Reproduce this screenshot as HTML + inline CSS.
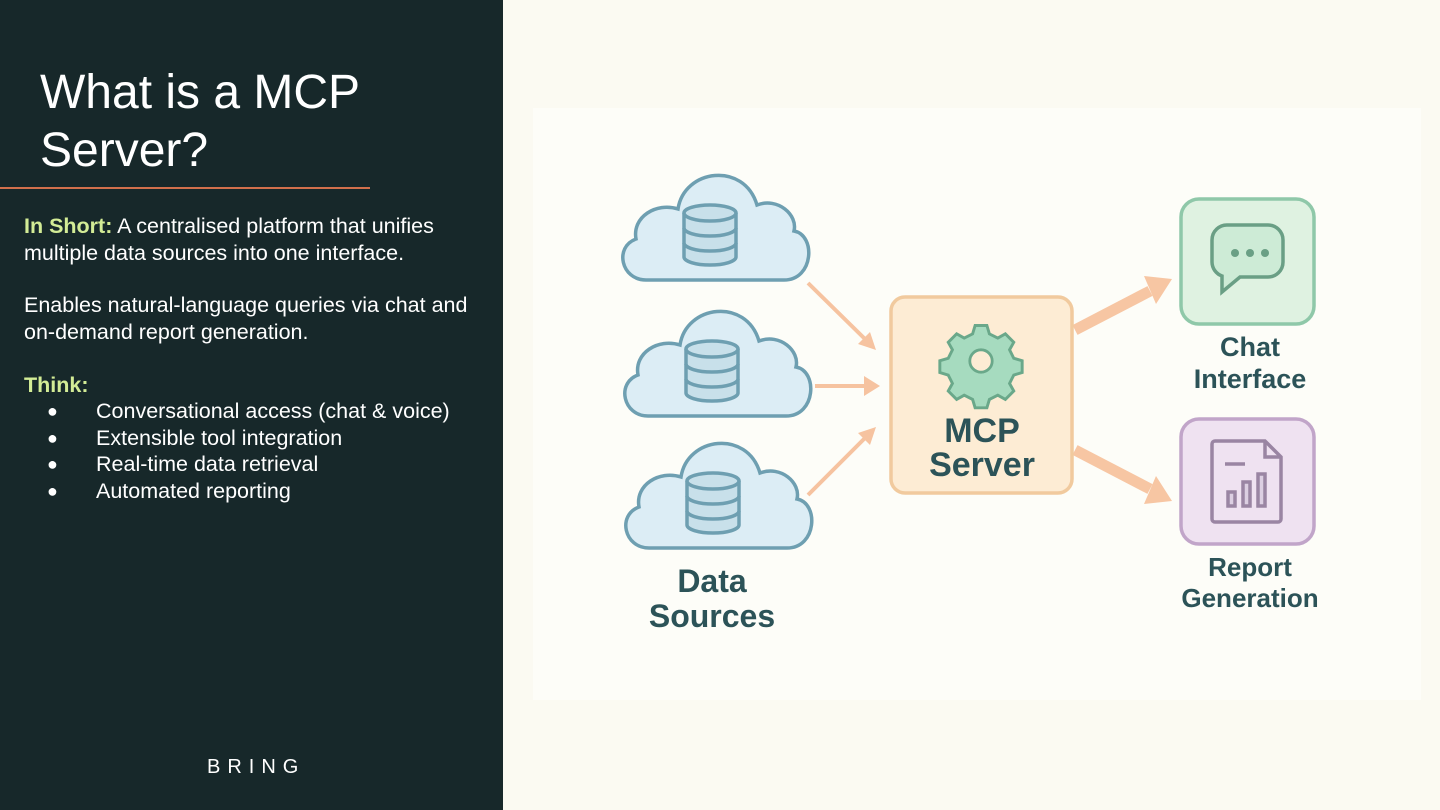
<!DOCTYPE html>
<html><head><meta charset="utf-8"><style>
*{margin:0;padding:0;box-sizing:border-box}
body{width:1440px;height:810px;overflow:hidden;background:#fbfaf2;font-family:"Liberation Sans",sans-serif;position:relative}
#left{position:absolute;left:0;top:0;width:503px;height:810px;background:#17282a;color:#fff}
.t{position:absolute;white-space:nowrap}
h1{position:absolute;left:40px;top:64px;font-weight:normal;font-size:48px;line-height:58px;color:#fff}
.b{font-size:21.5px;line-height:26.5px}
.g{color:#d3ec96;font-weight:bold}
</style></head><body>
<div id="left">
<h1>What is a MCP<br>Server?</h1>
<div style="position:absolute;left:0;top:187px;width:370px;height:2px;background:#d2704c"></div>
<div class="t b" style="left:24px;top:213px"><span class="g">In Short:</span> A centralised platform that unifies<br>multiple data sources into one interface.</div>
<div class="t b" style="left:24px;top:292px">Enables natural-language queries via chat and<br>on-demand report generation.</div>
<div class="t b g" style="left:24px;top:372px">Think:</div>
<div class="t b" style="left:47px;top:398px;font-size:18px">●<br>●<br>●<br>●</div>
<div class="t b" style="left:96px;top:398px">Conversational access (chat &amp; voice)<br>Extensible tool integration<br>Real-time data retrieval<br>Automated reporting</div>
<div class="t" style="left:207px;top:756px;font-size:20px;letter-spacing:7px;color:#fff">BRING</div>
</div>
<div style="position:absolute;left:533px;top:108px;width:888px;height:592px;background:#fdfdf8"></div>
<svg width="1440" height="810" style="position:absolute;left:0;top:0">
<defs>
<g id="cloud">
<path d="M30,113 C5,113 -2,80 20,72 C16,50 40,35 62,42 C68,2 128,-6 141,38 C162,30 182,48 178,64 C200,68 198,113 168,113 Z" fill="#dcedf5" stroke="#6e9fb1" stroke-width="3.5"/>
<g fill="#c8e0ea" stroke="#6e9fb1" stroke-width="3.5">
<path d="M68,46 v44 a26,8 0 0 0 52,0 v-44"/>
<ellipse cx="94" cy="46" rx="26" ry="8"/>
<path d="M68,61 a26,8 0 0 0 52,0 M68,76 a26,8 0 0 0 52,0" fill="none"/>
</g>
</g>
</defs>
<use href="#cloud" x="616" y="167"/>
<use href="#cloud" x="618" y="303"/>
<use href="#cloud" x="619" y="435"/>
<g stroke="#f6c3a0" stroke-width="4" fill="#f6c3a0">
<line x1="808" y1="283" x2="866" y2="340"/><polygon points="876,350 858,344 870,332" stroke="none"/>
<line x1="815" y1="386" x2="866" y2="386"/><polygon points="880,386 864,376 864,396" stroke="none"/>
<line x1="808" y1="495" x2="866" y2="437"/><polygon points="876,427 870,445 858,433" stroke="none"/>
</g>
<g stroke="#f7c6a3" stroke-width="11" fill="#f7c6a3">
<line x1="1075" y1="330" x2="1150" y2="291"/><polygon points="1172,279 1144,276 1156,304" stroke="none"/>
<line x1="1075" y1="450" x2="1150" y2="489"/><polygon points="1172,501 1156,476 1144,504" stroke="none"/>
</g>
<rect x="891" y="297" width="181" height="196" rx="14" fill="#fdecd4" stroke="#f1ca9e" stroke-width="3.5"/>
<g transform="translate(981,361) scale(0.8)" fill="#a6dbbf" stroke="#6aa88a" stroke-width="3.5">
<path d="M-7,-48 h14 l3,10 l10,5 l9,-5 l10,10 l-5,9 l5,10 l10,3 v14 l-10,3 l-5,10 l5,9 l-10,10 l-9,-5 l-10,5 l-3,10 h-14 l-3,-10 l-10,-5 l-9,5 l-10,-10 l5,-9 l-5,-10 l-10,-3 v-14 l10,-3 l5,-10 l-5,-9 l10,-10 l9,5 l10,-5 z" transform="translate(0,6) scale(1.05)"/>
<circle r="14" fill="#fdecd4"/>
</g>
<g font-weight="bold" fill="#2c5358" text-anchor="middle" font-family="Liberation Sans,sans-serif">
<text x="982" y="442" font-size="34">MCP</text>
<text x="982" y="476" font-size="34">Server</text>
<text x="712" y="592" font-size="32">Data</text>
<text x="712" y="627" font-size="32">Sources</text>
<text x="1250" y="356" font-size="27">Chat</text>
<text x="1250" y="388" font-size="27">Interface</text>
<text x="1250" y="576" font-size="26">Report</text>
<text x="1250" y="607" font-size="26">Generation</text>
</g>
<rect x="1181" y="199" width="133" height="125" rx="18" fill="#dff2e1" stroke="#8fc8a9" stroke-width="3.5"/>
<path d="M1228,225 h40 a15,15 0 0 1 15,15 v22 a15,15 0 0 1 -15,15 h-28 l-18,15 v-16 a15,15 0 0 1 -10,-14 v-22 a15,15 0 0 1 16,-15 z" fill="#cdebd6" stroke="#6a9f85" stroke-width="3.5"/>
<g fill="#6a9f85"><circle cx="1235" cy="253" r="4"/><circle cx="1250" cy="253" r="4"/><circle cx="1265" cy="253" r="4"/></g>
<rect x="1181" y="419" width="133" height="125" rx="18" fill="#efe2f1" stroke="#c1a5c9" stroke-width="3.5"/>
<g fill="none" stroke="#9a85a3" stroke-width="3.5">
<path d="M1215,441 h50 l16,16 v62 a3,3 0 0 1 -3,3 h-63 a3,3 0 0 1 -3,-3 v-75 a3,3 0 0 1 3,-3 z"/>
<path d="M1265,441 v16 h16"/>
<line x1="1225" y1="464" x2="1245" y2="464"/>
<rect x="1228" y="492" width="7" height="14" fill="#dccfe2"/>
<rect x="1243" y="482" width="7" height="24" fill="#dccfe2"/>
<rect x="1258" y="474" width="7" height="32" fill="#dccfe2"/>
</g>
</svg>
</body></html>
